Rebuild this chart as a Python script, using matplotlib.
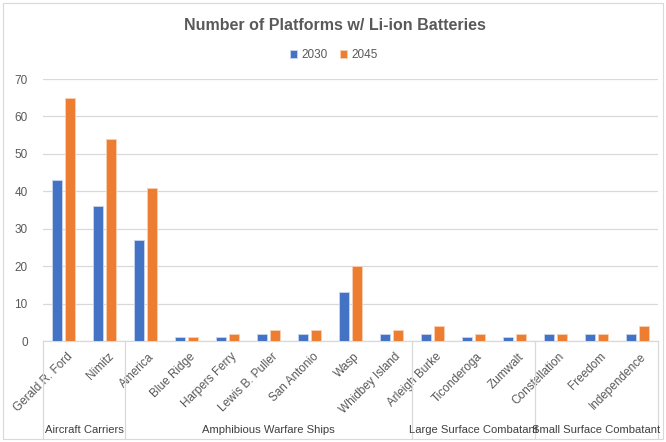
import matplotlib
matplotlib.use("Agg")
import matplotlib.pyplot as plt
import matplotlib.transforms as mtransforms
from matplotlib.patches import Rectangle
import numpy as np

plt.rcParams['font.family'] = ['Liberation Sans', 'DejaVu Sans']

categories = ["Gerald R. Ford", "Nimitz", "America", "Blue Ridge", "Harpers Ferry",
              "Lewis B. Puller", "San Antonio", "Wasp", "Whidbey Island",
              "Arleigh Burke", "Ticonderoga", "Zumwalt",
              "Constellation", "Freedom", "Independence"]
values_2030 = [43, 36, 27, 1, 1, 2, 2, 13, 2, 2, 1, 1, 2, 2, 2]
values_2045 = [65, 54, 41, 1, 2, 3, 3, 20, 3, 4, 2, 2, 2, 2, 4]
groups = ["Aircraft Carriers", "Amphibious Warfare Ships",
          "Large Surface Combatant", "Small Surface Combatant"]
group_sizes = [2, 7, 3, 3]
series_names = ["2030", "2045"]
yticks = [0, 10, 20, 30, 40, 50, 60, 70]

BLUE = "#4472C4"
ORANGE = "#ED7D31"
GRID = "#D9D9D9"
TXT = "#595959"

fig = plt.figure(figsize=(6.66, 4.42), dpi=100)
ax = fig.add_axes([43/666, 1-341/442, 615/666, 262/442])

x = np.arange(len(categories))
w = 0.235
ax.bar(x - 0.155, values_2030, width=w, color=BLUE, edgecolor="#C9D6EE", linewidth=0.6,
       label=series_names[0], zorder=3)
ax.bar(x + 0.155, values_2045, width=w, color=ORANGE, edgecolor="#F8CFB4", linewidth=0.6,
       label=series_names[1], zorder=3)

ax.set_xlim(-0.5, len(categories) - 0.5)
ax.set_ylim(0, 70)
ax.set_yticks(yticks)
ax.set_yticklabels([str(v) for v in yticks], fontsize=8.5, color=TXT)
ax.tick_params(axis='y', length=0, pad=11)
ax.yaxis.grid(True, color=GRID, linewidth=0.9, zorder=0)
for s in ["top", "right", "left"]:
    ax.spines[s].set_visible(False)
ax.spines["bottom"].set_color(GRID)
ax.spines["bottom"].set_linewidth(0.9)

ax.set_xticks(x)
ax.set_xticklabels(categories, rotation=45, ha='right', va='top', fontsize=8.5,
                   color=TXT, rotation_mode='anchor')
ax.tick_params(axis='x', length=0, pad=7)
offset = mtransforms.ScaledTranslation(3/100, 0, fig.dpi_scale_trans)
for lbl in ax.get_xticklabels():
    lbl.set_transform(lbl.get_transform() + offset)

# group separators and labels
trans = mtransforms.blended_transform_factory(ax.transData, fig.transFigure)
bounds = np.concatenate([[0], np.cumsum(group_sizes)]) - 0.5
y_top = 1 - 341/442
y_bot = 1 - 438/442
for b in bounds:
    ax.plot([b, b], [y_top, y_bot], transform=trans, color=GRID, linewidth=0.9,
            clip_on=False)
for i, g in enumerate(groups):
    cx = (bounds[i] + bounds[i + 1]) / 2
    ax.text(cx, 1 - 430/442, g, transform=trans, ha='center', va='center',
            fontsize=8.1, color="#404040")

fig.text(335/666, 1 - 25/442, "Number of Platforms w/ Li-ion Batteries",
         ha='center', va='center', fontsize=11.5, fontweight='bold', color=TXT)

leg = fig.legend(loc='center', bbox_to_anchor=(334/666, 1 - 55/442), ncol=2,
                 frameon=False, fontsize=8.5, handlelength=0.6, handleheight=0.6,
                 handletextpad=0.4, columnspacing=1.0)
for t in leg.get_texts():
    t.set_color(TXT)

fig.patches.append(Rectangle((3/666, 3/442), 660/666, 436/442, transform=fig.transFigure,
                             fill=False, edgecolor="#D9D9D9", linewidth=0.8))

fig.savefig("out.png", dpi=100)
